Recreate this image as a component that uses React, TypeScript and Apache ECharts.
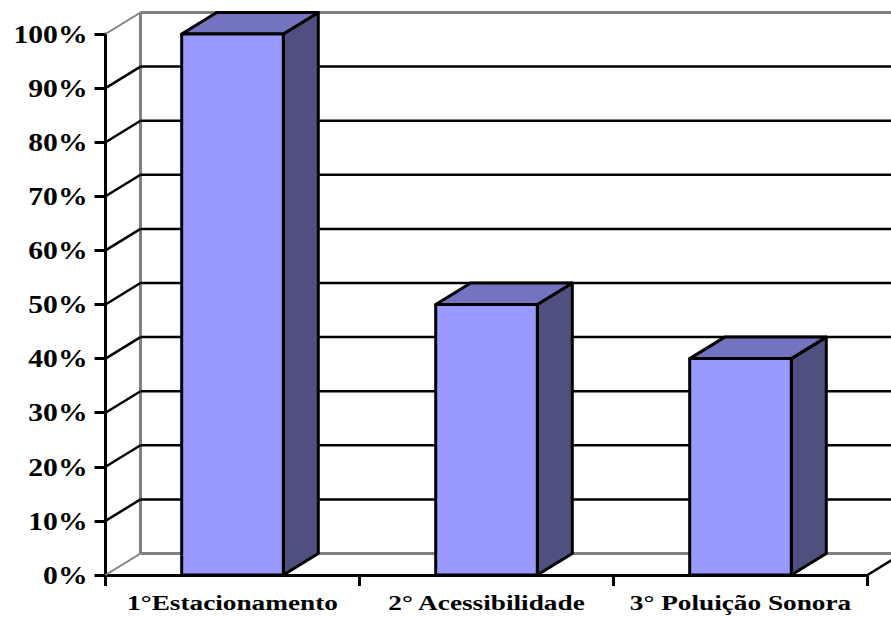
import React, { useEffect, useRef } from "react";
import * as echarts from "echarts";

const categories = ["1°Estacionamento", "2° Acessibilidade", "3° Poluição Sonora"];
const shares = [100, 50, 40];
const gridValues = [0, 10, 20, 30, 40, 50, 60, 70, 80, 90, 100];
const percentLabels = ["0%", "10%", "20%", "30%", "40%", "50%", "60%", "70%", "80%", "90%", "100%"];

// Oblique projection used by the walls and the bar boxes.
const DEPTH_X = 35;
const DEPTH_Y = -21.5;
const BAR_RATIO = 0.4;
const WALL_GREY = "#808080";
const FACE = "#9999FF";
const ROOF = "#7373BF";
const SIDE = "#4F4F80";

// The labels are set in a serif face stretched sideways.
const LABEL_FONT = { fontFamily: "Liberation Serif", fontWeight: "bold", fill: "#000" };
const VALUE_SIZE = 25;
const VALUE_STRETCH = 1.185;
const CATEGORY_SIZE = 22;
const CATEGORY_STRETCH = 1.24;

const seg = (a: number[], b: number[], stroke: string, lineWidth: number) => ({
  type: "line",
  shape: { x1: a[0], y1: a[1], x2: b[0], y2: b[1] },
  style: { stroke, lineWidth },
});

const renderWall = (params: any, api: any) => {
  const v = api.value(0);
  const band = api.size([1, 0])[0];
  const origin = api.coord([0, v]);
  const left = origin[0] - band / 2;
  const right = left + band * categories.length;
  const y = origin[1];
  const edge = v === 0 || v === 100;
  const color = edge ? WALL_GREY : "#000";
  const children: any[] = [
    seg([left, y], [left + DEPTH_X, y + DEPTH_Y], color, edge ? 2 : 2.5),
    seg([left + DEPTH_X, y + DEPTH_Y], [right + DEPTH_X, y + DEPTH_Y], color, edge ? 3 : 2.5),
    {
      type: "text",
      x: left - 18,
      y: y + 0.5,
      scaleX: VALUE_STRETCH,
      style: {
        ...LABEL_FONT,
        text: percentLabels[params.dataIndex],
        fontSize: VALUE_SIZE,
        align: "right",
        verticalAlign: "middle",
      },
    },
  ];
  if (v === 0) {
    const top = api.coord([0, 100])[1];
    children.push(seg([left + DEPTH_X, y + DEPTH_Y], [left + DEPTH_X, top + DEPTH_Y], WALL_GREY, 3));
    children.push(seg([right, y], [right + DEPTH_X, y + DEPTH_Y], "#000", 2.5));
  }
  return { type: "group", children };
};

const renderBox = (params: any, api: any) => {
  const idx = api.value(0);
  const top = api.coord([idx, api.value(1)]);
  const base = api.coord([idx, 0]);
  const w = api.size([1, 0])[0] * BAR_RATIO;
  const x0 = top[0] - w / 2;
  const x1 = top[0] + w / 2;
  const border = { stroke: "#000", lineWidth: 3, lineJoin: "round" };
  const poly = (points: number[][], fill: string) => ({
    type: "polygon",
    shape: { points },
    style: { fill, ...border },
  });
  return {
    type: "group",
    children: [
      poly(
        [[x1, base[1]], [x1 + DEPTH_X, base[1] + DEPTH_Y], [x1 + DEPTH_X, top[1] + DEPTH_Y], [x1, top[1]]],
        SIDE,
      ),
      poly(
        [[x0, top[1]], [x0 + DEPTH_X, top[1] + DEPTH_Y], [x1 + DEPTH_X, top[1] + DEPTH_Y], [x1, top[1]]],
        ROOF,
      ),
      poly([[x0, base[1]], [x1, base[1]], [x1, top[1]], [x0, top[1]]], FACE),
      {
        type: "text",
        x: top[0],
        y: base[1] + 27.5,
        scaleX: CATEGORY_STRETCH,
        style: {
          ...LABEL_FONT,
          text: categories[idx],
          fontSize: CATEGORY_SIZE,
          align: "center",
          verticalAlign: "middle",
        },
      },
    ],
  };
};

export default function App() {
  const ref = useRef<HTMLDivElement>(null);

  useEffect(() => {
    const chart = echarts.init(ref.current!, null, { renderer: "svg" });
    chart.setOption({
      animation: false,
      backgroundColor: "#fff",
      grid: { left: 105.5, right: 23.5, top: 34, bottom: 42 },
      xAxis: {
        type: "category",
        data: categories,
        axisLine: { lineStyle: { color: "#000", width: 3 } },
        axisTick: { show: true, length: 11, lineStyle: { color: "#000", width: 3 } },
        axisLabel: { show: false },
        splitLine: { show: false },
      },
      yAxis: {
        type: "value",
        min: 0,
        max: 100,
        interval: 10,
        axisLine: { show: true, lineStyle: { color: "#000", width: 3 } },
        axisTick: { show: true, length: 11, lineStyle: { color: "#000", width: 3 } },
        axisLabel: { show: false },
        splitLine: { show: false },
      },
      series: [
        {
          type: "custom",
          z: 1,
          silent: true,
          renderItem: renderWall,
          data: gridValues.map((v) => [v]),
          encode: { y: 0 },
        },
        {
          type: "custom",
          z: 3,
          silent: true,
          renderItem: renderBox,
          data: shares.map((v, i) => [i, v]),
          encode: { x: 0, y: 1 },
        },
      ],
    });
    return () => chart.dispose();
  }, []);

  return <div ref={ref} style={{ position: "fixed", left: 0, top: 0, width: 891, height: 617 }} />;
}
